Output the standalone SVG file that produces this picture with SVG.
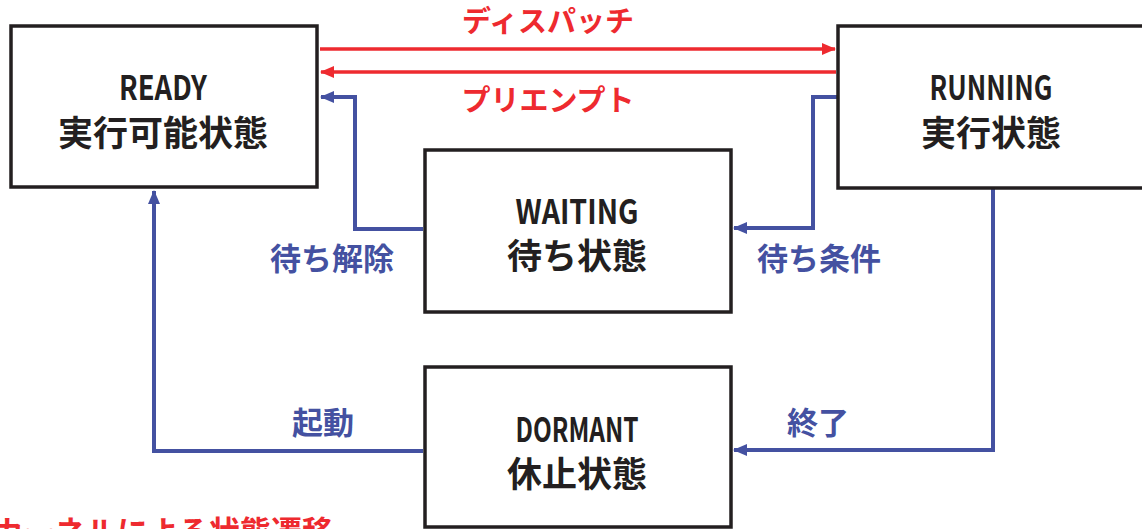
<svg xmlns="http://www.w3.org/2000/svg" width="1142" height="529" viewBox="0 0 1142 529">
<style>
.box{fill:#fff;stroke:#231f20;stroke-width:3.5}
.en{font-family:"Noto Sans CJK JP","Liberation Mono",monospace;font-size:34px;font-weight:bold;fill:#231f20;text-anchor:middle}
.jp{font-family:"Noto Sans CJK JP",sans-serif;font-size:35px;font-weight:bold;fill:#231f20;text-anchor:middle}
.red{fill:none;stroke:#ee2a2f;stroke-width:3.5}
.blue{fill:none;stroke:#4451a1;stroke-width:4}
.lr{font-family:"Noto Sans CJK JP",sans-serif;font-size:29px;font-weight:bold;fill:#ee2a2f;text-anchor:middle}
.lb{font-family:"Noto Sans CJK JP",sans-serif;font-size:31px;font-weight:bold;fill:#4451a1;text-anchor:middle}
</style>
<defs>
<marker id="ar" markerWidth="14" markerHeight="12" refX="13" refY="6" orient="auto" markerUnits="userSpaceOnUse"><path d="M0,0 L14,6 L0,12 Z" fill="#ee2a2f"/></marker>
<marker id="ab" markerWidth="14" markerHeight="12" refX="13" refY="6" orient="auto" markerUnits="userSpaceOnUse"><path d="M0,0 L14,6 L0,12 Z" fill="#4451a1"/></marker>
</defs>
<rect width="1142" height="529" fill="#fff"/>
<g id="connectors">
<line class="red" x1="320" y1="49" x2="835" y2="49" marker-end="url(#ar)"/>
<line class="red" x1="836" y1="72" x2="321" y2="72" marker-end="url(#ar)"/>
<polyline class="blue" points="423,229 355,229 355,97 321,97" marker-end="url(#ab)"/>
<polyline class="blue" points="837,97 813,97 813,228 734,228" marker-end="url(#ab)"/>
<polyline class="blue" points="423,451 154,451 154,191" marker-end="url(#ab)"/>
<polyline class="blue" points="993,189 993,450 734,450" marker-end="url(#ab)"/>
<text class="lr" x="548" y="32">ディスパッチ</text>
<text class="lr" x="548" y="111">プリエンプト</text>
<text class="lb" x="332" y="270">待ち解除</text>
<text class="lb" x="819" y="270">待ち条件</text>
<text class="lb" x="323" y="434">起動</text>
<text class="lb" x="818" y="434">終了</text>
</g>
<g id="ready">
<rect class="box" x="11" y="26" width="306" height="161"/>
<text class="en" x="163" y="100" textLength="88" lengthAdjust="spacingAndGlyphs">READY</text>
<text class="jp" x="163" y="146">実行可能状態</text>
</g>
<g id="running">
<rect class="box" x="838" y="26" width="320" height="162"/>
<text class="en" x="991" y="100" textLength="123" lengthAdjust="spacingAndGlyphs">RUNNING</text>
<text class="jp" x="991" y="146">実行状態</text>
</g>
<g id="waiting">
<rect class="box" x="425" y="150" width="306" height="162"/>
<text class="en" x="577" y="224" textLength="123" lengthAdjust="spacingAndGlyphs">WAITING</text>
<text class="jp" x="577" y="269">待ち状態</text>
</g>
<g id="dormant">
<rect class="box" x="425" y="367" width="306" height="160"/>
<text class="en" x="577" y="442" textLength="123" lengthAdjust="spacingAndGlyphs">DORMANT</text>
<text class="jp" x="577" y="487">休止状態</text>
</g>
<text x="-7" y="543" style="font-family:'Noto Sans CJK JP',sans-serif;font-size:31px;font-weight:bold;fill:#ee2a2f">カーネルによる状態遷移</text>
</svg>
